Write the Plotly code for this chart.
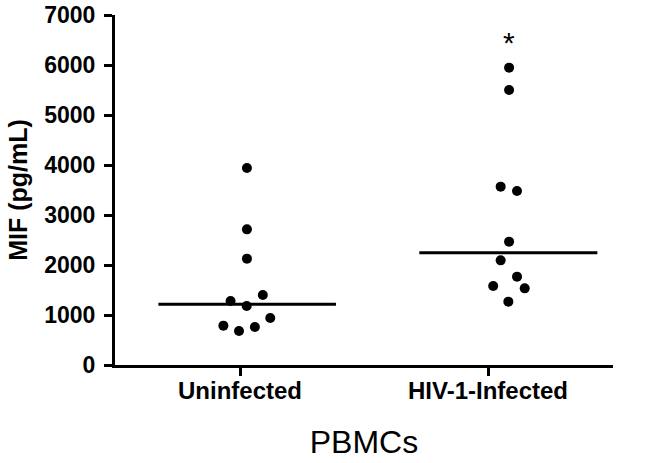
import plotly.graph_objects as go

# Groups and their category positions
groups = ["Uninfected", "HIV-1-Infected"]
group_pos = [0, 1]

# MIF (pg/mL) per donor
uninfected_mif = [3940, 2713, 2127, 1280, 1400, 1180, 787, 680, 760, 940]
uninfected_jitter = [0.028, 0.028, 0.028, -0.038, 0.092, 0.027, -0.067, -0.004, 0.06, 0.122]

hiv_mif = [5947, 5500, 3567, 3480, 2467, 2093, 1767, 1580, 1533, 1267]
hiv_jitter = [0.085, 0.085, 0.051, 0.117, 0.085, 0.051, 0.117, 0.021, 0.148, 0.082]

# Median lines (value, left end, right end in category units)
medians = [1214, 2246]
median_left = [-0.329, -0.277]
median_right = [0.387, 0.441]

font_family = "Liberation Sans, Arial, sans-serif"

fig = go.Figure()

for pos, vals, jit in [(group_pos[0], uninfected_mif, uninfected_jitter),
                       (group_pos[1], hiv_mif, hiv_jitter)]:
    fig.add_trace(go.Scatter(
        x=[pos + j for j in jit],
        y=vals,
        mode='markers',
        marker=dict(size=10, color='black'),
        showlegend=False
    ))

# Median bars
for pos, m, a, b in zip(group_pos, medians, median_left, median_right):
    fig.add_trace(go.Scatter(
        x=[pos + a, pos + b],
        y=[m, m],
        mode='lines',
        line=dict(color='black', width=3),
        showlegend=False
    ))

# Significance asterisk above HIV group
fig.add_annotation(
    x=1.085, y=6500, text="*", showarrow=False,
    font=dict(family=font_family, size=30, color='black'),
    yanchor='middle', yshift=-2
)

fig.update_layout(
    width=650, height=463,
    margin=dict(l=115, r=37, t=15, b=98),
    paper_bgcolor='white',
    plot_bgcolor='white',
    font=dict(family=font_family, color='black'),
    xaxis=dict(
        range=[-0.504, 1.504],
        tickvals=group_pos,
        ticktext=["<b>%s</b>" % g for g in groups],
        tickfont=dict(size=24),
        ticklabelstandoff=-6,
        showline=True, linewidth=3, linecolor='black',
        ticks='outside', ticklen=8, tickwidth=3, tickcolor='black',
        showgrid=False, zeroline=False, automargin=False,
        title=dict(text="PBMCs", font=dict(size=32), standoff=28)
    ),
    yaxis=dict(
        range=[0, 7000],
        dtick=1000,
        tickformat='d',
        tickfont=dict(size=23, weight='bold'),
        ticklabelstandoff=4,
        showline=True, linewidth=3, linecolor='black',
        ticks='outside', ticklen=8, tickwidth=3, tickcolor='black',
        showgrid=False, zeroline=False, automargin=False,
        title=dict(text="<b>MIF (pg/mL)</b>", font=dict(size=25), standoff=10)
    )
)

# drop the default 8px page margin so the figure fills the window
fig.write_html("out.html", config={'displayModeBar': False},
               post_script="document.body.style.margin='0';")
